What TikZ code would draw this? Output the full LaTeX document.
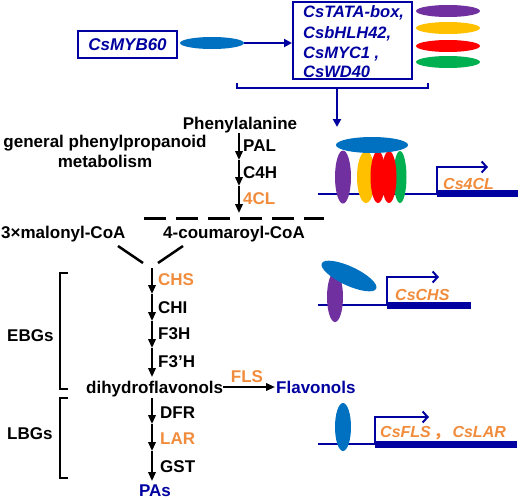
\documentclass[tikz,border=0pt]{standalone}
\usepackage{fontspec}
\setmainfont{Liberation Sans}
\newfontfamily\cjk{Noto Sans CJK SC}
\usetikzlibrary{shapes.geometric,arrows.meta}
\definecolor{dblue}{RGB}{0,0,160}
\definecolor{orng}{RGB}{240,140,60}
\definecolor{mblue}{RGB}{0,112,192}
\definecolor{purp}{RGB}{112,48,160}
\definecolor{yell}{RGB}{255,192,0}
\definecolor{redc}{RGB}{255,0,0}
\definecolor{grn}{RGB}{0,176,80}
\begin{document}
\begin{tikzpicture}[x=1pt,y=-1pt,
  font=\fontsize{17}{20}\selectfont\bfseries,
  lbl/.style={inner sep=0pt},
  gname/.style={inner sep=0pt,anchor=base west,text=orng,font=\fontsize{16}{19}\selectfont\bfseries\itshape},
  arr/.style={line width=2pt,-{Triangle[length=9pt,width=7.5pt]}},
  barb/.style={line width=2pt,dblue,-{Straight Barb[length=5pt,width=11pt,line width=2pt]}},
  bluearr/.style={line width=2.2pt,dblue,-{Triangle[length=8pt,width=8pt]}},
  blob/.style={ellipse,inner sep=0pt,draw=none},
  brk/.style={line width=2.5pt,line cap=butt},
  dna/.style={line width=2pt,dblue},
]
\useasboundingbox (0,0) rectangle (520,499);

% ---------- top: CsMYB60 and partners ----------
\node[draw=dblue,line width=2.5pt,minimum width=99pt,minimum height=27pt,inner sep=0pt,
      text=dblue,font=\fontsize{17}{20}\selectfont\bfseries\itshape] (myb) at (127.5,44.5) {CsMYB60};
\node[blob,fill=mblue,minimum width=64pt,minimum height=12pt] (mybe) at (212,43) {};
\coordinate (b2w) at (292,43);
\draw[bluearr] (mybe.east) -- (b2w);
\begin{scope}[every node/.style={inner sep=0pt,anchor=base west,text=dblue,font=\fontsize{16.5}{20}\selectfont\bfseries\itshape}]
\node (t1) at (303,17) {CsTATA-box,};
\node (t2) at (303,38) {CsbHLH42,};
\node (t3) at (303,58) {CsMYC1 ,};
\node (t4) at (303,77) {CsWD40};
\end{scope}
\draw[dblue,line width=2.5pt] (293,2) rectangle (412,79);
\node[blob,fill=purp,minimum width=64pt,minimum height=12pt] (e1) at (448,11) {};
\node[blob,fill=yell,minimum width=64pt,minimum height=12pt] (e2) at (448,28) {};
\node[blob,fill=redc,minimum width=64pt,minimum height=12pt] (e3) at (448,46) {};
\node[blob,fill=grn,minimum width=64pt,minimum height=12pt] (e4) at (448,62) {};
\draw[dblue,brk] (237,83) -- (237,88) -- (428,88) -- (428,83);
\coordinate (bk) at (337,88);
\coordinate (bkend) at (337,127);
\draw[bluearr] (bk) -- (bkend);

% ---------- gene 1: Cs4CL ----------
\coordinate (d1a) at (318,194);
\coordinate (d1b) at (437,194);
\coordinate (p1) at (437,167);
\coordinate (p1e) at (488,167);
\draw[dna] (d1a) -- (d1b);
\fill[dblue] (437,190) rectangle (518,197);
\draw[barb] (d1b) -- (p1) -- (p1e);
\node[gname] (g1) at (443,189) {Cs4CL};
\node[blob,fill=purp,minimum width=16pt,minimum height=53pt] (c1) at (343,177) {};
\node[blob,fill=yell,minimum width=18pt,minimum height=52pt] (c2) at (366,177) {};
\node[blob,fill=grn,minimum width=13pt,minimum height=52pt] (c5) at (400,177) {};
\node[blob,fill=redc,minimum width=15pt,minimum height=52pt] (c4) at (389,177) {};
\node[blob,fill=redc,minimum width=15pt,minimum height=52pt] (c3) at (378,177) {};
\node[blob,fill=mblue,minimum width=72pt,minimum height=16pt] (cb) at (372,145) {};

% ---------- gene 2: CsCHS ----------
\coordinate (d2a) at (318,305);
\coordinate (d2b) at (387,305);
\coordinate (p2) at (387,277);
\coordinate (p2e) at (439,277);
\draw[dna] (d2a) -- (d2b);
\fill[dblue] (387,302) rectangle (471,309);
\draw[barb] (d2b) -- (p2) -- (p2e);
\node[gname] (g2) at (395,300) {CsCHS};
\node[blob,fill=purp,minimum width=16pt,minimum height=50pt] (h1) at (335,297) {};
\node[blob,fill=mblue,minimum width=60pt,minimum height=19pt,rotate=-25] (hb) at (349,276) {};

% ---------- gene 3: CsFLS, CsLAR ----------
\coordinate (d3a) at (318,444);
\coordinate (d3b) at (375,444);
\coordinate (p3) at (375,417);
\coordinate (p3e) at (429,417);
\draw[dna] (d3a) -- (d3b);
\fill[dblue] (375,441) rectangle (517,448);
\draw[barb] (d3b) -- (p3) -- (p3e);
\node[gname] (g3) at (380,437) {CsFLS\,{\cjk ，}\hspace{3pt}CsLAR};
\node[blob,fill=mblue,minimum width=16pt,minimum height=48pt] (f1) at (343,427) {};

% ---------- general phenylpropanoid pathway ----------
\node[lbl,anchor=base] (phe) at (240,129) {Phenylalanine};
\node[lbl,align=center,anchor=base] (gen) at (105,167) {general phenylpropanoid\\[0pt]metabolism};
\coordinate (u0) at (239,133);
\coordinate (u1) at (239,160);
\coordinate (u2) at (239,186);
\coordinate (u3) at (239,213);
\draw[arr] (u0) -- (u1);
\draw[arr] (u1) -- (u2);
\draw[arr] (u2) -- (u3);
\node[lbl,anchor=base west] (pal) at (243,151) {PAL};
\node[lbl,anchor=base west] (c4h) at (243,178) {C4H};
\node[lbl,anchor=base west,text=orng] (cl) at (243,204) {4CL};
\coordinate (ds1) at (144,218);
\coordinate (ds2) at (324,218);
\draw[line width=3pt,dash pattern=on 22pt off 10pt] (ds1) -- (ds2);
\node[lbl,anchor=base west] (mal) at (1,238) {3×malonyl-CoA};
\node[lbl,anchor=base west] (cou) at (163,238) {4-coumaroyl-CoA};
\coordinate (v1) at (118,246);
\coordinate (v2) at (143,263);
\coordinate (v3) at (183,246);
\coordinate (v4) at (158,263);
\draw[line width=2.5pt] (v1) -- (v2);
\draw[line width=2.5pt] (v3) -- (v4);

% ---------- flavonoid pathway ----------
\coordinate (l0) at (152,268);
\coordinate (l1) at (152,294);
\coordinate (l2) at (152,321);
\coordinate (l3) at (152,348);
\coordinate (l4) at (152,377);
\draw[arr] (l0) -- (l1);
\draw[arr] (l1) -- (l2);
\draw[arr] (l2) -- (l3);
\draw[arr] (l3) -- (l4);
\node[lbl,anchor=base west,text=orng] (chs) at (158,285) {CHS};
\node[lbl,anchor=base west] (chi) at (158,313) {CHI};
\node[lbl,anchor=base west] (f3h) at (158,339) {F3H};
\node[lbl,anchor=base west] (f3ph) at (158,367) {F3’H};
\node[lbl,anchor=base west] (dhf) at (86,393) {dihydroflavonols};
\coordinate (fl1) at (275,387);
\draw[arr] (dhf.east |- 0,387) -- (fl1);
\node[lbl,anchor=base] (fls) at (247,382) {\textcolor{orng}{FLS}};
\node[lbl,anchor=base west,text=dblue] (flv) at (276,393) {Flavonols};
\coordinate (m0) at (152,398);
\coordinate (m1) at (152,424);
\coordinate (m2) at (152,451);
\coordinate (m3) at (152,481);
\draw[arr] (m0) -- (m1);
\draw[arr] (m1) -- (m2);
\draw[arr] (m2) -- (m3);
\node[lbl,anchor=base west] (dfr) at (160,418) {DFR};
\node[lbl,anchor=base west,text=orng] (lar) at (160,444) {LAR};
\node[lbl,anchor=base west] (gst) at (160,472) {GST};
\node[lbl,anchor=base,text=dblue] (pas) at (155,496) {PAs};

% ---------- brackets ----------
\draw[brk] (68,273) -- (60,273) -- (60,389) -- (68,389);
\draw[brk] (68,398) -- (60,398) -- (60,478) -- (68,478);
\node[lbl,anchor=base west] (ebg) at (7,341) {EBGs};
\node[lbl,anchor=base west] (lbg) at (7,439) {LBGs};
\end{tikzpicture}
\end{document}
